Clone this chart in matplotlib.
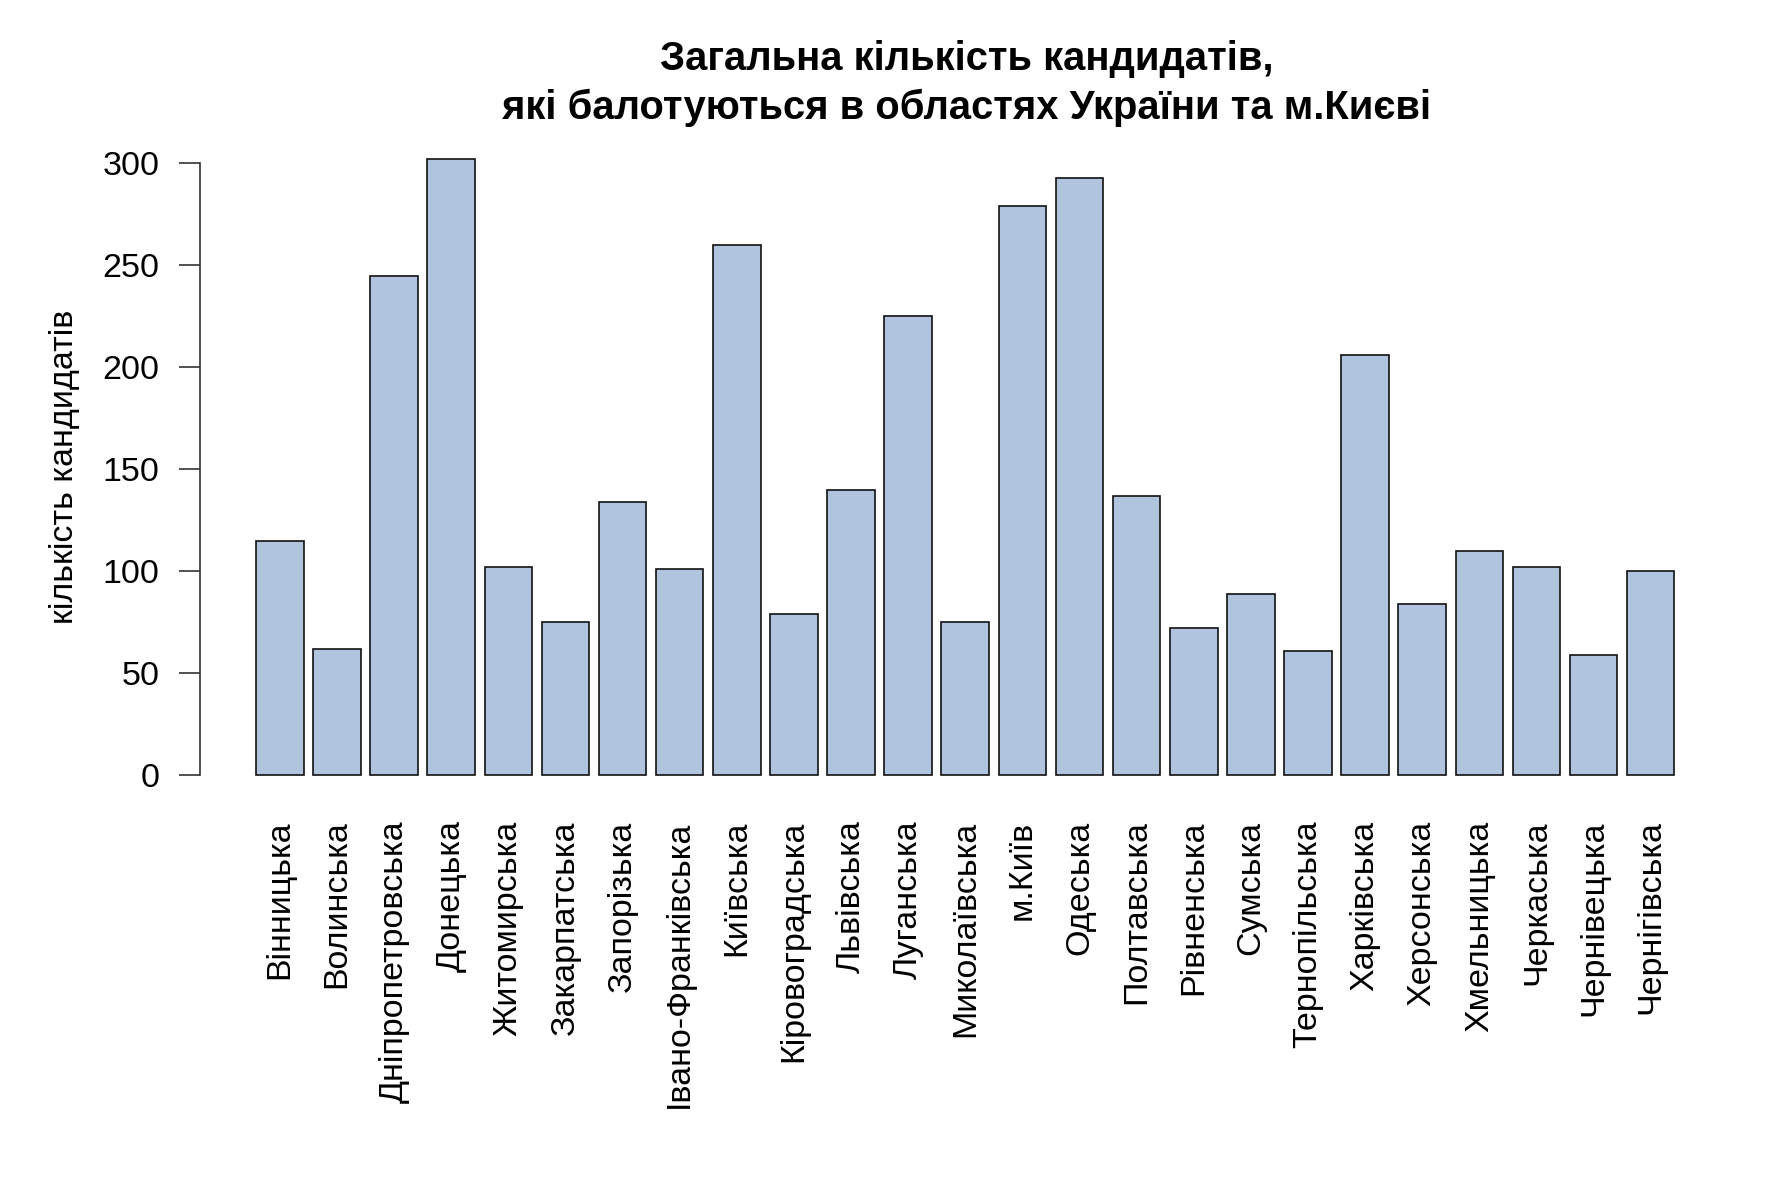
import matplotlib

matplotlib.use("Agg")
import matplotlib.pyplot as plt
import numpy as np


REGIONS = [
    "Вінницька", "Волинська", "Дніпропетровська", "Донецька", "Житомирська",
    "Закарпатська", "Запорізька", "Івано-Франківська", "Київська", "Кіровоградська",
    "Львівська", "Луганська", "Миколаївська", "м.Київ", "Одеська",
    "Полтавська", "Рівненська", "Сумська", "Тернопільська", "Харківська",
    "Херсонська", "Хмельницька", "Черкаська", "Чернівецька", "Чернігівська",
]
CANDIDATES = [
    115, 62, 245, 302, 102,
    75, 134, 101, 260, 79,
    140, 225, 75, 279, 293,
    137, 72, 89, 61, 206,
    84, 110, 102, 59, 100,
]
Y_TICKS = [0, 50, 100, 150, 200, 250, 300]

TITLE_LINES = [
    "Загальна кількість кандидатів,",
    "які балотуються в областях України та м.Києві",
]
Y_LABEL = "кількість кандидатів"


def main():
    plt.rcParams["font.family"] = ["Liberation Sans", "DejaVu Sans"]

    W, H = 1771.0, 1181.0
    fig = plt.figure(figsize=(17.71, 11.81), dpi=100)
    fig.patch.set_facecolor("white")

    # plot region in pixels (top-left origin), like R's default barplot region
    px_left, px_right = 200.0, 1741.5
    px_bottom, px_top = 799.6, 134.8
    ax = fig.add_axes([px_left / W, 1 - px_bottom / H,
                       (px_right - px_left) / W, (px_bottom - px_top) / H])

    # R-style barplot: width 1, space 0.2
    x = 0.2 + np.arange(len(REGIONS)) * 1.2 + 0.5
    ax.bar(x, CANDIDATES, width=1.0, color="#B0C4DE", edgecolor="#111111", linewidth=1.2)

    ax.set_xlim(-0.977, 31.408)
    ax.set_ylim(-12.08, 314.08)

    for side in ["top", "right", "bottom"]:
        ax.spines[side].set_visible(False)
    ax.spines["left"].set_bounds(0, 300)
    ax.spines["left"].set_color("#333333")
    ax.spines["left"].set_linewidth(1.2)

    ax.set_yticks(Y_TICKS)
    ax.set_yticklabels([str(v) for v in Y_TICKS])
    ax.tick_params(axis="y", length=15, width=1.2, color="#333333", pad=14, labelsize=24.5)

    ax.set_xticks(x)
    ax.set_xticklabels(REGIONS, rotation=90, va="top", ha="center")
    ax.tick_params(axis="x", length=0, pad=15, labelsize=24.5)

    ax.set_ylabel(Y_LABEL, fontsize=24.5)
    ax.yaxis.set_label_coords((80 - px_left) / (px_right - px_left), 0.5)

    title_x = 967.0 / W
    for line, baseline in zip(TITLE_LINES, [70.0, 119.3]):
        fig.text(title_x, 1 - baseline / H, line, ha="center", va="baseline",
                 fontsize=28.8, fontweight="bold")

    fig.savefig("out.png", dpi=100, facecolor="white")
    plt.close(fig)


if __name__ == "__main__":
    main()
